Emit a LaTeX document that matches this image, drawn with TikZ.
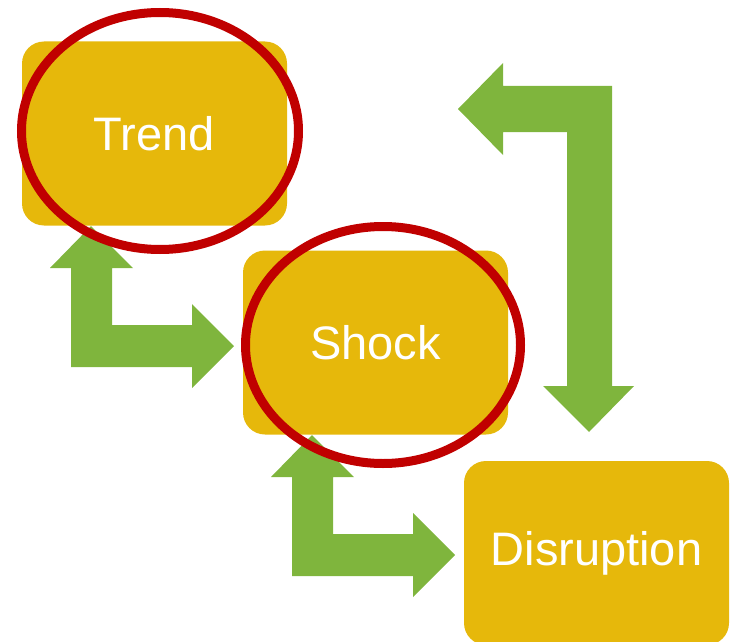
\documentclass[tikz,border=0pt]{standalone}
\usepackage{fontspec}
\setmainfont{Liberation Sans}
\definecolor{boxyellow}{RGB}{230,184,11}
\definecolor{arrowgreen}{RGB}{127,181,61}
\definecolor{ringred}{RGB}{192,0,0}
\tikzset{
  stagebox/.style={rectangle, rounded corners=22pt, fill=boxyellow, text=white,
    minimum width=265pt, minimum height=184pt, inner sep=0pt,
    font=\fontsize{47}{56}\selectfont},
  ring/.style={draw=ringred, line width=9pt},
  blockarrow/.style={fill=arrowgreen},
  bentarrow/.pic={
    \fill[blockarrow] (0,0) -- ++(42,42) -- ++(-21,0) -- ++(0,57) -- ++(80,0)
      -- ++(0,-21) -- ++(42,42) -- ++(-42,42) -- ++(0,-21) -- ++(-121,0)
      -- ++(0,-99) -- ++(-21,0) -- cycle;
  }
}
\begin{document}
\begin{tikzpicture}[x=1pt,y=-1pt]
        \useasboundingbox (0,0) rectangle (734,642);

        % arrows
        \coordinate (tip1) at (91,226);
        \coordinate (tip2) at (312,435);
        \coordinate (tip3) at (458,109);
        \pic at (tip1) {bentarrow};
        \pic at (tip2) {bentarrow};
        \fill[blockarrow] (tip3) -- ++(45,-46) -- ++(0,23) -- ++(109,0) -- ++(0,300)
            -- ++(22,0) -- ++(-45,46) -- ++(-46,-46) -- ++(24,0) -- ++(0,-254)
            -- ++(-64,0) -- ++(0,23) -- cycle;

        % boxes
        \node[stagebox] at (154.5,133.5) (trend) {Trend};
        \node[stagebox] at (375.5,342.5) (shock) {Shock};
        \node[stagebox] at (596.5,553) (disruption) {Disruption};

        % rings
        \draw[ring] (160,131) ellipse [x radius=138.5, y radius=118.5];
        \draw[ring] (383,345) ellipse [x radius=137.5, y radius=118.5];

    \end{tikzpicture}
\end{document}
